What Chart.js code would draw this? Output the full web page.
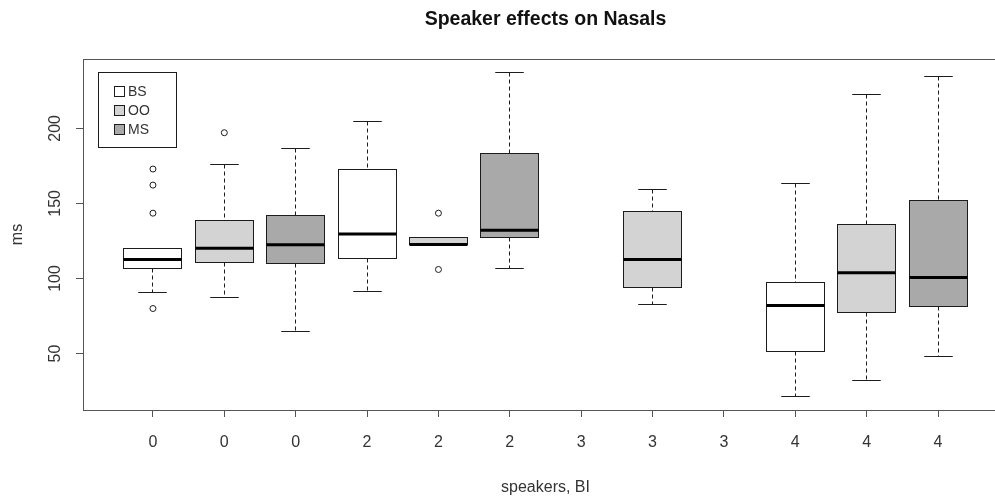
<!DOCTYPE html>
<html>
<head>
<meta charset="utf-8">
<title>Speaker effects on Nasals</title>
<script src="https://cdn.jsdelivr.net/npm/chart.js@4.4.1/dist/chart.umd.min.js"></script>
<style>
  html, body { margin: 0; padding: 0; background: #fff; overflow: hidden; }
  #Wrap { width: 995px; height: 496px; overflow: hidden; }
</style>
</head>
<body>
<div id="Wrap"><canvas id="BoxChart" width="1030" height="496"></canvas></div>
<script>
// one box per position, BS / OO / MS repeated for each speaker group
const groups = ["0", "0", "0", "2", "2", "2", "3", "3", "3", "4", "4", "4"];
const speakers = ["BS", "OO", "MS"];
const lowerWhisker = [90.4, 87.6, 64.4, 91.1, 122.4, 106.5, null, 82.7, null, 21.1, 32.2, 47.8];
const lowerQuartile = [106.5, 110.7, 109.8, 113.1, 122.4, 127.1, null, 93.8, null, 51.1, 77.1, 81.1];
const medians = [112.7, 120.2, 122.4, 129.6, 122.6, 132.2, null, 112.7, null, 82.0, 103.8, 100.7];
const upperQuartile = [120.2, 138.4, 142.0, 172.9, 127.1, 183.1, null, 144.9, null, 97.6, 135.8, 151.8];
const upperWhisker = [120.2, 176.2, 186.7, 204.9, 127.1, 237.5, null, 159.5, null, 163.6, 222.4, 234.4];
const outlierPositions = [1, 1, 1, 1, 2, 5, 5];
const outlierValues = [172.9, 162.2, 143.5, 80.0, 197.1, 143.5, 106.0];
const yTicks = [50, 100, 150, 200];

const speakerFills = ["#ffffff", "#d3d3d3", "#a9a9a9"];
const inkColor = "#1c1c1c";
const axisColor = "#555555";
const textColor = "#333333";
const fontFamily = "'Liberation Sans', Arial, sans-serif";

const crisp = (v) => Math.round(v - 0.5) + 0.5;

const boxPlotPlugin = {
  id: "boxPlot",
  beforeDatasetsDraw(chart) {
    const { ctx, chartArea, scales } = chart;
    const x = scales.x;
    const y = scales.y;
    const step = x.getPixelForValue(2) - x.getPixelForValue(1);
    const half = step * 0.4;
    const capHalf = half * 0.5;

    ctx.save();
    ctx.beginPath();
    ctx.rect(chartArea.left, chartArea.top, chartArea.width, chartArea.height);
    ctx.clip();

    groups.forEach((_, i) => {
      if (medians[i] == null) return;
      const cx = crisp(x.getPixelForValue(i + 1));
      const yLow = crisp(y.getPixelForValue(lowerWhisker[i]));
      const yQ1 = crisp(y.getPixelForValue(lowerQuartile[i]));
      const yMed = y.getPixelForValue(medians[i]);
      const yQ3 = crisp(y.getPixelForValue(upperQuartile[i]));
      const yUp = crisp(y.getPixelForValue(upperWhisker[i]));
      const left = crisp(cx - half);
      const right = crisp(cx + half);

      ctx.strokeStyle = inkColor;
      ctx.lineWidth = 1;

      // dashed whiskers
      ctx.setLineDash([4, 3]);
      ctx.beginPath();
      ctx.moveTo(cx, yUp);
      ctx.lineTo(cx, yQ3);
      ctx.moveTo(cx, yQ1);
      ctx.lineTo(cx, yLow);
      ctx.stroke();
      ctx.setLineDash([]);

      // staples
      ctx.beginPath();
      ctx.moveTo(cx - capHalf, yUp);
      ctx.lineTo(cx + capHalf, yUp);
      ctx.moveTo(cx - capHalf, yLow);
      ctx.lineTo(cx + capHalf, yLow);
      ctx.stroke();

      // box
      ctx.fillStyle = speakerFills[i % speakers.length];
      ctx.fillRect(left, yQ3, right - left, yQ1 - yQ3);
      ctx.strokeRect(left, yQ3, right - left, yQ1 - yQ3);

      // median
      ctx.lineWidth = 3;
      ctx.strokeStyle = "#000";
      ctx.beginPath();
      ctx.moveTo(left, yMed);
      ctx.lineTo(right, yMed);
      ctx.stroke();
    });
    ctx.restore();
  },
  afterDraw(chart) {
    const { ctx, chartArea, scales } = chart;
    const y = scales.y;
    ctx.save();

    // plot frame
    ctx.strokeStyle = axisColor;
    ctx.lineWidth = 1;
    ctx.strokeRect(crisp(chartArea.left), crisp(chartArea.top),
      Math.round(chartArea.width), Math.round(chartArea.height));

    // y tick labels, turned like R does
    ctx.fillStyle = textColor;
    ctx.font = "16px " + fontFamily;
    ctx.textAlign = "center";
    ctx.textBaseline = "middle";
    yTicks.forEach((v) => {
      ctx.save();
      ctx.translate(chartArea.left - 27, y.getPixelForValue(v));
      ctx.rotate(-Math.PI / 2);
      ctx.fillText(String(v), 0, 0);
      ctx.restore();
    });

    // legend
    ctx.strokeStyle = inkColor;
    ctx.strokeRect(98.5, 72.5, 78, 75);
    ctx.textAlign = "left";
    ctx.font = "14px " + fontFamily;
    speakers.forEach((name, i) => {
      const rowY = 91 + i * 19;
      ctx.fillStyle = speakerFills[i];
      ctx.fillRect(114.5, rowY - 4.5, 10, 10);
      ctx.strokeRect(114.5, rowY - 4.5, 10, 10);
      ctx.fillStyle = textColor;
      ctx.fillText(name, 128, rowY + 1);
    });
    ctx.restore();
  },
};

new Chart(document.getElementById("BoxChart"), {
  type: "scatter",
  data: {
    datasets: [
      {
        label: "outliers",
        data: outlierPositions.map((pos, i) => ({ x: pos, y: outlierValues[i] })),
        pointRadius: 3,
        pointHoverRadius: 3,
        pointBorderWidth: 1,
        pointBorderColor: inkColor,
        pointBackgroundColor: "rgba(255,255,255,0)",
      },
    ],
  },
  options: {
    responsive: false,
    animation: false,
    devicePixelRatio: 1,
    layout: { padding: { left: 0, right: 22, top: 0, bottom: 0 } },
    plugins: {
      legend: { display: false },
      tooltip: { enabled: false },
      title: {
        display: true,
        text: "Speaker effects on Nasals",
        fullSize: false,
        color: "#111",
        font: { family: fontFamily, size: 19.5, weight: "bold" },
        padding: { top: 8, bottom: 27.6 },
      },
    },
    scales: {
      x: {
        type: "linear",
        min: 0.02,
        max: 12.98,
        afterBuildTicks: (scale) => {
          scale.ticks = groups.map((_, i) => ({ value: i + 1 }));
        },
        afterFit: (scale) => {
          scale.height = 86;
        },
        ticks: {
          autoSkip: false,
          maxRotation: 0,
          padding: 16,
          color: textColor,
          font: { family: fontFamily, size: 16 },
          callback: (value, index) => groups[index],
        },
        grid: { drawOnChartArea: false, drawTicks: true, tickLength: 7, color: axisColor },
        border: { display: true, color: axisColor },
        title: {
          display: true,
          text: "speakers, BI",
          color: textColor,
          font: { family: fontFamily, size: 16 },
          padding: { top: 0, bottom: -1 },
        },
      },
      y: {
        min: 12.4,
        max: 246.2,
        afterBuildTicks: (scale) => {
          scale.ticks = yTicks.map((v) => ({ value: v }));
        },
        afterFit: (scale) => {
          scale.width = 83;
        },
        ticks: { display: false },
        grid: { drawOnChartArea: false, drawTicks: true, tickLength: 7, color: axisColor },
        border: { display: true, color: axisColor },
        title: {
          display: true,
          text: "ms",
          color: textColor,
          font: { family: fontFamily, size: 16 },
          padding: { top: 8, bottom: 0 },
        },
      },
    },
  },
  plugins: [boxPlotPlugin],
});
</script>
</body>
</html>
